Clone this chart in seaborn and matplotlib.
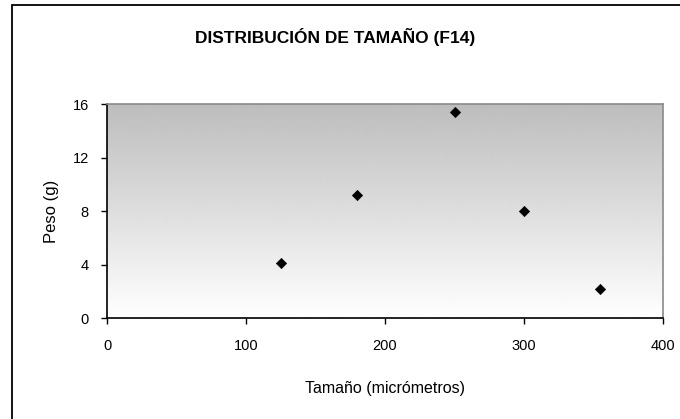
import numpy as np
import pandas as pd
import matplotlib
matplotlib.use("Agg")
import matplotlib.pyplot as plt
from matplotlib.patches import Rectangle
import seaborn as sns

# Particle size distribution data
tamano = [125, 180, 250, 300, 355]
peso = [4.1, 9.2, 15.4, 8.0, 2.2]
x_ticks = [0, 100, 200, 300, 400]
y_ticks = [0, 4, 8, 12, 16]

titulo = "DISTRIBUCIÓN DE TAMAÑO (F14)"
x_label = "Tamaño (micrómetros)"
y_label = "Peso (g)"

sns.set_theme(style="white")
plt.rcParams["font.family"] = ["Liberation Sans", "DejaVu Sans"]
plt.rcParams["text.color"] = "black"
plt.rcParams["axes.labelcolor"] = "black"

fig = plt.figure(figsize=(6.8, 4.19), dpi=100)
ax = fig.add_axes([107 / 680, 1 - 318 / 419, (663 - 107) / 680, (318 - 104) / 419])

# outer frame of the chart area (runs off the right and bottom edges)
fig.patches.append(Rectangle((12 / 680, -10 / 419), 700 / 680, 424 / 419,
                             transform=fig.transFigure, fill=False,
                             edgecolor="black", linewidth=1.3))

# vertical gradient: gray at the top fading to white at the bottom
grad = np.linspace(0.74, 1.0, 256).reshape(-1, 1)
ax.imshow(grad, cmap="gray", vmin=0, vmax=1, aspect="auto",
          extent=[0, 1, 0, 1], origin="upper", transform=ax.transAxes,
          zorder=0, interpolation="bilinear")

df = pd.DataFrame({"tamano": tamano, "peso": peso})
sns.scatterplot(data=df, x="tamano", y="peso", ax=ax, marker="D", s=28,
                color="black", edgecolor="black", zorder=3)

ax.set_xlim(0, 400)
ax.set_ylim(0, 16)
ax.set_xticks(x_ticks)
ax.set_yticks(y_ticks)
ax.tick_params(axis="both", direction="out", length=4, width=1,
               colors="black", labelcolor="black", labelsize=10.5,
               bottom=True, left=True)
ax.tick_params(axis="x", pad=11)
ax.tick_params(axis="y", pad=9)

for side in ["top", "right"]:
    ax.spines[side].set_color("#8a8a8a")
    ax.spines[side].set_linewidth(1.2)
for side in ["left", "bottom"]:
    ax.spines[side].set_color("black")
    ax.spines[side].set_linewidth(1.2)

ax.set_xlabel(x_label, fontsize=11.5, labelpad=20)
ax.set_ylabel(y_label, fontsize=12, labelpad=10)

fig.text(335 / 680, 1 - 37 / 419, titulo, ha="center", va="center",
         fontsize=12.5, fontweight="bold", color="black",
         family=["Liberation Sans", "DejaVu Sans"])

fig.savefig("out.png", dpi=100, facecolor="white")
